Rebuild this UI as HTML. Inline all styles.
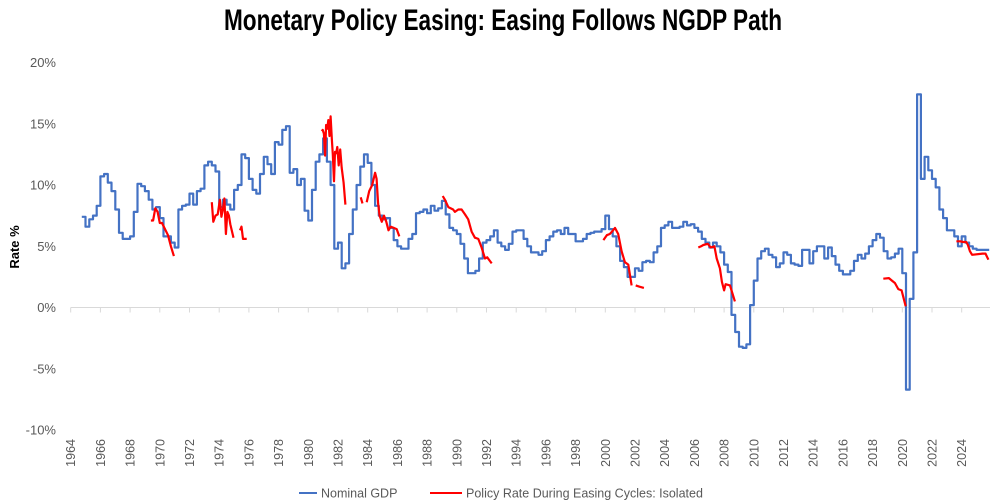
<!DOCTYPE html>
<html><head><meta charset="utf-8"><style>
html,body{margin:0;padding:0;background:#fff;}
svg{display:block;font-family:"Liberation Sans",sans-serif;}
</style></head><body>
<svg id="chart" width="1003" height="503" viewBox="0 0 1003 503" xmlns="http://www.w3.org/2000/svg">
<rect width="1003" height="503" fill="#fff"/>
<text x="503" y="30" text-anchor="middle" font-family="'Liberation Sans Narrow','Liberation Sans',sans-serif" font-weight="bold" font-size="30" textLength="558" lengthAdjust="spacingAndGlyphs" fill="#000">Monetary Policy Easing: Easing Follows NGDP Path</text>
<text transform="translate(19,247) rotate(-90)" text-anchor="middle" font-size="13" font-weight="bold" fill="#000">Rate %</text>
<g id="yaxis"></g><g id="xaxis"></g><g id="series"></g>
<g>
<line x1="299" y1="493" x2="317" y2="493" stroke="#4472C4" stroke-width="2"/>
<text x="321" y="497.5" font-size="12.5" fill="#595959">Nominal GDP</text>
<line x1="430" y1="493" x2="462" y2="493" stroke="#FF0000" stroke-width="2"/>
<text x="466" y="497.5" font-size="12.5" fill="#595959">Policy Rate During Easing Cycles: Isolated</text>
</g>
</svg>
<script>
const yTicks = [20, 15, 10, 5, 0, -5, -10];
const xTickYears = [1964,1966,1968,1970,1972,1974,1976,1978,1980,1982,1984,1986,1988,1990,1992,1994,1996,1998,2000,2002,2004,2006,2008,2010,2012,2014,2016,2018,2020,2022,2024];
const ngdpStart = 1964.75;
const ngdpValues = [
7.4,6.6,7.2,7.5,8.3,10.7,10.9,10.2,9.5,8.0,6.1,5.6,5.6,5.8,7.8,10.1,9.9,9.5,8.8,8.0,8.2,7.3,5.8,5.8,5.3,4.9,
8.0,8.3,8.4,9.3,8.4,9.5,9.7,11.6,11.9,11.6,11.1,8.2,8.8,8.4,8.0,9.6,10.0,12.5,12.2,10.5,9.6,9.3,10.9,
12.3,11.7,10.9,13.5,13.3,14.5,14.8,11.0,11.3,10.0,10.5,7.9,7.1,9.6,11.9,12.5,13.8,11.9,10.0,
4.8,5.3,3.2,3.6,6.0,8.0,10.0,11.5,12.5,11.8,10.0,8.3,7.5,7.2,7.3,6.5,5.5,5.0,4.8,4.8,5.6,6.0,7.7,7.8,8.0,7.7,8.3,7.9,
8.1,8.7,7.6,6.5,6.3,6.0,5.2,4.0,2.8,2.8,3.0,4.0,5.3,5.5,5.8,6.3,5.3,5.0,4.7,5.2,6.2,6.3,6.3,5.6,5.0,4.5,4.5,4.3,
4.6,5.5,5.8,6.2,6.3,6.0,6.5,6.0,6.0,5.4,5.4,5.6,6.0,6.1,6.2,6.2,6.4,7.5,6.4,5.8,5.0,3.8,3.3,2.5,2.5,3.2,3.0,3.7,
3.8,3.7,4.5,5.0,6.5,6.7,7.0,6.5,6.5,6.6,7.0,6.7,6.8,6.5,6.2,5.6,5.3,4.9,5.3,5.0,4.5,3.5,2.9,-0.6,-2.0,-3.2,-3.3,-3.0,
0.2,2.2,4.0,4.6,4.8,4.3,4.1,3.3,3.6,4.5,4.3,3.6,3.5,3.4,4.7,4.7,3.6,4.6,5.0,5.0,4.0,4.9,4.2,3.5,3.0,2.7,2.7,3.0,
3.8,4.3,4.0,4.4,5.0,5.5,6.0,5.7,4.6,4.0,4.1,4.4,4.8,2.8,-6.7,0.7,4.5,17.4,10.5,12.3,11.2,10.5,9.8,8.0,7.3,6.3,6.3,5.8,
5.0,5.8,5.3,5.0,4.8,4.7,4.7];
const ngdpEnd = 2025.85;
// policy-rate easing segments: years and values
const policyYears = [
[1969.4,1969.55,1969.7,1969.85,1970.0,1970.15,1970.35,1970.55,1970.75,1970.95],
[1973.5,1973.6,1973.75,1973.9,1974.05,1974.15,1974.25,1974.35,1974.45,1974.55,1974.65,1974.75,1974.96],
[1975.4,1975.5,1975.6,1975.85],
[1980.9,1980.97,1981.05,1981.13,1981.2,1981.28,1981.35,1981.43,1981.5,1981.58,1981.65,1981.73,1981.8,1981.88,1981.95,1982.05,1982.15,1982.25,1982.38,1982.5],
[1983.53,1983.65],
[1983.93,1984.1,1984.3,1984.5,1984.6,1984.7,1984.8,1984.95,1985.1,1985.25,1985.4,1985.55,1985.75,1985.95,1986.13],
[1989.05,1989.2,1989.43,1989.75,1989.87,1990.1,1990.32,1990.55,1990.77,1991.0,1991.22,1991.45,1991.67,1991.9,1992.05,1992.35],
[1999.87,2000.1,2000.3,2000.45,2000.65,2000.87,2001.1,2001.32,2001.55,2001.77],
[2002.05,2002.3,2002.6],
[2006.26,2006.45,2006.6,2006.9,2007.1,2007.35,2007.5,2007.72,2007.85,2008.0,2008.1,2008.4,2008.73],
[2018.72,2019.1,2019.3,2019.5,2019.73,2019.95,2020.23],
[2023.64,2023.9,2024.1,2024.3,2024.42,2024.55,2024.7,2025.4,2025.6,2025.8]
];
const policyValues = [
[7.1,7.1,8.1,7.8,6.9,6.9,6.4,5.9,5.0,4.2],
[8.6,7.0,7.5,7.6,8.8,7.4,8.0,8.9,6.0,7.8,7.5,6.8,5.7],
[6.3,6.6,5.6,5.6],
[14.4,14.5,14.2,12.4,14.9,14.6,15.3,14.0,15.6,13.8,12.5,10.3,12.7,12.6,13.1,11.6,12.9,11.4,10.2,8.4],
[9.0,8.5],
[8.6,9.5,10.0,11.0,10.5,8.5,7.5,7.0,7.5,7.0,6.3,6.6,6.5,6.4,5.8],
[9.1,8.8,8.2,8.0,7.8,8.0,8.0,7.6,7.2,6.2,5.7,5.6,4.9,4.0,4.1,3.6],
[5.5,5.9,6.0,6.2,6.5,6.0,4.6,3.7,3.5,1.8],
[1.8,1.7,1.6],
[4.9,5.0,5.1,5.2,4.9,5.0,4.0,3.2,2.1,1.4,1.9,1.8,0.5],
[2.35,2.4,2.2,2.0,1.5,1.4,0.1],
[5.4,5.4,5.35,5.35,5.1,4.6,4.3,4.4,4.4,3.9]
];

const NS = "http://www.w3.org/2000/svg";
function X(yr){ return 70.7 + (yr - 1964) * 14.85; }
function Y(v){ return 307.5 - v * 12.25; }
function mk(tag, attrs, parent){ const e = document.createElementNS(NS, tag); for (const k in attrs) e.setAttribute(k, attrs[k]); parent.appendChild(e); return e; }

const yg = document.getElementById('yaxis');
yTicks.forEach(t => {
  const tx = mk('text', {x: 56, y: Y(t) + 4.5, 'text-anchor': 'end', 'font-size': 13, fill: '#595959'}, yg);
  
  
  tx.textContent = t + '%';
});
const xg = document.getElementById('xaxis');
const zl = mk('line', {x1: X(1964), y1: Y(0), x2: 990, y2: Y(0), stroke: '#d9d9d9', 'stroke-width': 1}, xg);


xTickYears.forEach(yr => {
  const tk = mk('line', {x1: X(yr), y1: Y(0), x2: X(yr), y2: Y(0) + 5, stroke: '#d9d9d9', 'stroke-width': 1}, xg);
  
  
  const tx = mk('text', {transform: 'translate(' + (X(yr) + 4.5) + ',439) rotate(-90)', 'text-anchor': 'end', 'font-size': 12.5, fill: '#595959'}, xg);
  
  
  tx.textContent = yr;
});

const sg = document.getElementById('series');
let d = '';
ngdpValues.forEach((v, i) => {
  const x0 = X(ngdpStart + i * 0.25);
  const x1 = i < ngdpValues.length - 1 ? X(ngdpStart + (i + 1) * 0.25) : X(ngdpEnd);
  d += (i === 0 ? 'M' : 'L') + x0.toFixed(1) + ',' + Y(v).toFixed(1) + 'L' + x1.toFixed(1) + ',' + Y(v).toFixed(1);
});
const np = mk('path', {d: d, fill: 'none', stroke: '#4472C4', 'stroke-width': 2.2, 'stroke-linejoin': 'round'}, sg);



policyYears.forEach((ys, s) => {
  let pd = '';
  ys.forEach((yr, i) => { pd += (i === 0 ? 'M' : 'L') + X(yr).toFixed(1) + ',' + Y(policyValues[s][i]).toFixed(1); });
  const pp = mk('path', {d: pd, fill: 'none', stroke: '#FF0000', 'stroke-width': 2.2, 'stroke-linejoin': 'round'}, sg);
  
  
});
</script>
</body></html>
